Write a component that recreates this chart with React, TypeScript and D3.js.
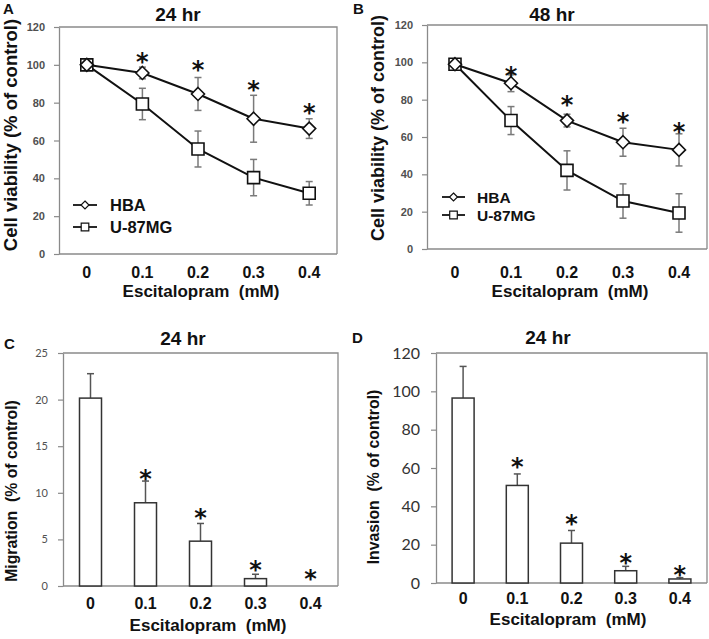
import React, { useEffect, useRef } from "react"
import * as d3 from "d3"

// doses (mM)
const doses = ["0", "0.1", "0.2", "0.3", "0.4"]

// panel A: 24 hr cell viability
const hba24 = [100, 95.7, 84.6, 71.5, 66.3]
const hba24Err = [1, 3.1, 8.7, 12.4, 5.2]
const u87_24 = [100, 79.3, 55.5, 40.4, 32.1]
const u87_24Err = [1, 8.3, 9.5, 9.6, 6.2]
const stars24 = [null, 104.2, 100.1, 89.5, 77.2]

// panel B: 48 hr cell viability
const hba48 = [99, 88.8, 68.8, 57.2, 53.1]
const hba48Err = [1, 4.5, 3.4, 7.5, 8.6]
const u87_48 = [99, 68.8, 42.1, 25.7, 19.3]
const u87_48Err = [1, 7.5, 10.5, 9.2, 10.3]
const stars48 = [null, 95.5, 79.9, 71.0, 65.6]

// panel C: migration
const migration = [20.16, 8.93, 4.81, 0.79, 0]
const migrationErr = [2.62, 2.33, 1.9, 0.47, 0]
const migrationStars = [null, 12.1, 7.9, 2.3, 1.33]

// panel D: invasion
const invasion = [96.5, 50.9, 20.8, 6.4, 2.1]
const invasionErr = [16.5, 6, 6.6, 2.3, 0.7]
const invasionStars = [null, 63.4, 33.9, 13.5, 6.9]

const viabilityTicks = [0, 20, 40, 60, 80, 100, 120]
const migrationTicks = [0, 5, 10, 15, 20, 25]
const invasionTicks = [0, 20, 40, 60, 80, 100, 120]

const ARIAL = "'Liberation Sans', Arial, sans-serif"
const CALI = "Lato, 'Open Sans', sans-serif"
const STAR = "'DejaVu Sans', sans-serif"

function frame(svg, box, yMax, ticks, opt) {
  const x = d3.scaleBand().domain(doses).range([box.l, box.r])
  const y = d3.scaleLinear().domain([0, yMax]).range([box.b, box.t])
  const g = svg.append("g")

  // top + right border
  g.append("path")
    .attr("d", `M${box.l},${box.t}H${box.r}V${box.b}`)
    .attr("fill", "none")
    .attr("stroke", "#8a8a8a")
    .attr("stroke-width", 1.3)

  const ya = g.append("g")
    .attr("transform", `translate(${box.l},0)`)
    .call(d3.axisLeft(y).tickValues(ticks).tickSize(5).tickPadding(opt.tickPad).tickSizeOuter(0))
  ya.select(".domain").attr("stroke", "#8a8a8a").attr("stroke-width", 1.3)
  ya.selectAll(".tick line").attr("stroke", "#8a8a8a").attr("stroke-width", 1.2)
  ya.selectAll(".tick text")
    .attr("font-family", opt.tickFont)
    .attr("font-size", opt.tickSize)
    .attr("font-weight", opt.tickWeight)
    .attr("fill", opt.tickColor)

  // x axis line
  g.append("line")
    .attr("x1", box.l).attr("x2", box.r)
    .attr("y1", box.b).attr("y2", box.b)
    .attr("stroke", "#8a8a8a").attr("stroke-width", 1.3)

  g.append("g")
    .selectAll("text")
    .data(doses)
    .enter()
    .append("text")
    .attr("x", d => x(d) + x.bandwidth() / 2)
    .attr("y", box.b + opt.xTickDy)
    .attr("text-anchor", "middle")
    .attr("font-family", ARIAL)
    .attr("font-weight", "bold")
    .attr("font-size", 16)
    .attr("fill", "#111")
    .text(d => d)

  g.append("text")
    .attr("x", opt.xTitleX)
    .attr("y", box.b + opt.xTitleDy)
    .attr("text-anchor", "middle")
    .attr("font-family", ARIAL)
    .attr("font-weight", "bold")
    .attr("font-size", 17)
    .attr("fill", "#111")
    .style("white-space", "pre")
    .text("Escitalopram  (mM)")

  g.append("text")
    .attr("transform", `translate(${opt.yTitleX},${opt.yTitleY}) rotate(-90)`)
    .attr("text-anchor", "middle")
    .attr("font-family", ARIAL)
    .attr("font-weight", "bold")
    .attr("font-size", opt.yTitleSize)
    .attr("fill", "#111")
    .style("white-space", "pre")
    .text(opt.yTitle)

  g.append("text")
    .attr("x", opt.titleX)
    .attr("y", opt.titleY)
    .attr("text-anchor", "middle")
    .attr("font-family", ARIAL)
    .attr("font-weight", "bold")
    .attr("font-size", 19)
    .attr("fill", "#111")
    .text(opt.title)

  g.append("text")
    .attr("x", opt.letterX)
    .attr("y", opt.letterY)
    .attr("font-family", ARIAL)
    .attr("font-weight", "bold")
    .attr("font-size", 15)
    .attr("fill", "#111")
    .text(opt.letter)

  return { x, y, g }
}

function stars(g, x, y, vals) {
  g.append("g")
    .selectAll("text")
    .data(vals.map((v, i) => ({ v, d: doses[i] })).filter(s => s.v !== null))
    .enter()
    .append("text")
    .attr("x", s => x(s.d) + x.bandwidth() / 2)
    .attr("y", s => y(s.v) + 13.5)
    .attr("text-anchor", "middle")
    .attr("font-family", STAR)
    .attr("font-weight", "bold")
    .attr("font-size", 24)
    .attr("fill", "#111")
    .text("*")
}

const diamond = r => `M0,${-r}L${r},0L0,${r}L${-r},0Z`
const square = r => `M${-r},${-r}H${r}V${r}H${-r}Z`

function lineSeries(g, x, y, vals, errs, shape, r) {
  const cx = i => x(doses[i]) + x.bandwidth() / 2
  const eb = g.append("g").attr("stroke", "#7a7a7a").attr("stroke-width", 1.5)
  vals.forEach((v, i) => {
    eb.append("line").attr("x1", cx(i)).attr("x2", cx(i)).attr("y1", y(v + errs[i])).attr("y2", y(v - errs[i]))
    eb.append("line").attr("x1", cx(i) - 3.5).attr("x2", cx(i) + 3.5).attr("y1", y(v + errs[i])).attr("y2", y(v + errs[i]))
    eb.append("line").attr("x1", cx(i) - 3.5).attr("x2", cx(i) + 3.5).attr("y1", y(v - errs[i])).attr("y2", y(v - errs[i]))
  })
  const line = d3.line().x((d, i) => cx(i)).y(d => y(d))
  g.append("path")
    .attr("d", line(vals))
    .attr("fill", "none")
    .attr("stroke", "#111")
    .attr("stroke-width", 2)
  g.append("g")
    .selectAll("path")
    .data(vals)
    .enter()
    .append("path")
    .attr("d", shape(r))
    .attr("transform", (d, i) => `translate(${cx(i)},${y(d)})`)
    .attr("fill", "white")
    .attr("stroke", "#111")
    .attr("stroke-width", 1.6)
}

function legend(g, items, x0, x1, tx, rows, fs) {
  items.forEach((it, i) => {
    const yy = rows[i]
    g.append("line").attr("x1", x0).attr("x2", x1).attr("y1", yy).attr("y2", yy)
      .attr("stroke", "#111").attr("stroke-width", 1.8)
    g.append("path").attr("d", it.shape(it.r)).attr("transform", `translate(${(x0 + x1) / 2},${yy})`)
      .attr("fill", "white").attr("stroke", "#111").attr("stroke-width", 1.2)
    g.append("text").attr("x", tx).attr("y", yy + fs * 0.36)
      .attr("font-family", ARIAL).attr("font-weight", "bold").attr("font-size", fs).attr("fill", "#111")
      .text(it.label)
  })
}

function bars(g, x, y, vals, errs) {
  const cx = i => x(doses[i]) + x.bandwidth() / 2
  const bw = 22
  const eb = g.append("g").attr("stroke", "#555").attr("stroke-width", 1.5)
  vals.forEach((v, i) => {
    if (errs[i] <= 0) return
    eb.append("line").attr("x1", cx(i)).attr("x2", cx(i)).attr("y1", y(v)).attr("y2", y(v + errs[i]))
    eb.append("line").attr("x1", cx(i) - 3.5).attr("x2", cx(i) + 3.5).attr("y1", y(v + errs[i])).attr("y2", y(v + errs[i]))
  })
  g.append("g")
    .selectAll("rect")
    .data(vals)
    .enter()
    .append("rect")
    .attr("x", (d, i) => cx(i) - bw / 2)
    .attr("width", bw)
    .attr("y", d => y(d))
    .attr("height", d => y(0) - y(d))
    .attr("fill", "white")
    .attr("stroke", "#333")
    .attr("stroke-width", 1.5)
}

export default function App() {
  const ref = useRef(null)

  useEffect(() => {
    const svg = d3.select(ref.current)
    svg.selectAll("*").remove()

    const lineTicks = { tickFont: ARIAL, tickSize: 11, tickWeight: "bold", tickColor: "#505050", tickPad: 9 }
    const legendItems = [{ label: "HBA", shape: diamond, r: 4 }, { label: "U-87MG", shape: square, r: 3.8 }]

    // A
    const a = frame(svg, { l: 59, t: 27, r: 337, b: 254 }, 120, viabilityTicks, {
      ...lineTicks, xTickDy: 24, xTitleX: 201, xTitleDy: 43,
      yTitle: "Cell viability (% of control)", yTitleX: 16.5, yTitleY: 135, yTitleSize: 18.5,
      title: "24 hr", titleX: 178, titleY: 21, letter: "A", letterX: 3, letterY: 14,
    })
    lineSeries(a.g, a.x, a.y, u87_24, u87_24Err, square, 6)
    lineSeries(a.g, a.x, a.y, hba24, hba24Err, diamond, 6.5)
    stars(a.g, a.x, a.y, stars24)
    legend(a.g, legendItems, 73, 97, 110, [205, 227], 16.5)

    // B
    const b = frame(svg, { l: 427, t: 25, r: 707, b: 249 }, 120, viabilityTicks, {
      ...lineTicks, xTickDy: 29, xTitleX: 570, xTitleDy: 48,
      yTitle: "Cell viability (% of control)", yTitleX: 384, yTitleY: 128, yTitleSize: 18,
      title: "48 hr", titleX: 552, titleY: 21, letter: "B", letterX: 353, letterY: 14,
    })
    lineSeries(b.g, b.x, b.y, u87_48, u87_48Err, square, 6)
    lineSeries(b.g, b.x, b.y, hba48, hba48Err, diamond, 6.5)
    stars(b.g, b.x, b.y, stars48)
    legend(b.g, legendItems, 442, 465, 477, [197, 215], 15.5)

    // C
    const c = frame(svg, { l: 63, t: 353, r: 338, b: 586 }, 25, migrationTicks, {
      tickFont: CALI, tickSize: 11, tickWeight: "normal", tickColor: "#505050", tickPad: 10,
      xTickDy: 23, xTitleX: 208, xTitleDy: 45,
      yTitle: "Migration  (% of control)", yTitleX: 16.5, yTitleY: 491, yTitleSize: 15.8,
      title: "24 hr", titleX: 183, titleY: 345, letter: "C", letterX: 4, letterY: 349,
    })
    bars(c.g, c.x, c.y, migration, migrationErr)
    stars(c.g, c.x, c.y, migrationStars)

    // D
    const dd = frame(svg, { l: 436, t: 353, r: 707, b: 583 }, 120, invasionTicks, {
      tickFont: CALI, tickSize: 16, tickWeight: "normal", tickColor: "#333", tickPad: 11,
      xTickDy: 20.5, xTitleX: 568, xTitleDy: 42,
      yTitle: "Invasion  (% of control)", yTitleX: 379, yTitleY: 477, yTitleSize: 15.8,
      title: "24 hr", titleX: 548, titleY: 344, letter: "D", letterX: 352, letterY: 343,
    })
    bars(dd.g, dd.x, dd.y, invasion, invasionErr)
    stars(dd.g, dd.x, dd.y, invasionStars)
  }, [])

  return (
    <svg
      ref={ref}
      width={709}
      height={639}
      style={{ position: "absolute", left: 0, top: 0, background: "white" }}
    />
  )
}
